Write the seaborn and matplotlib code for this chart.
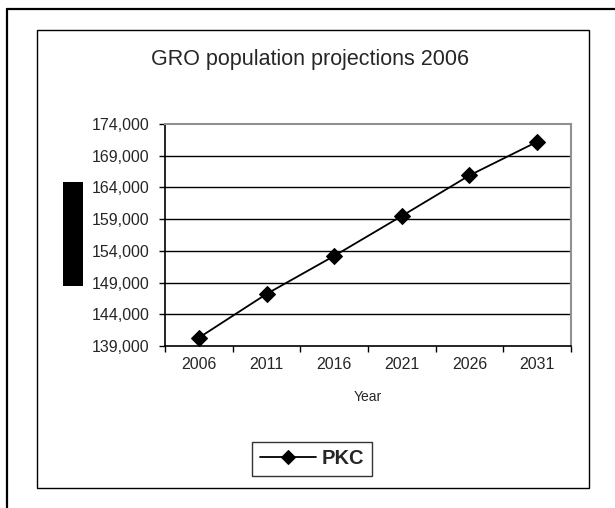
import matplotlib
matplotlib.use('Agg')
import matplotlib.pyplot as plt
from matplotlib.patches import Rectangle
from matplotlib.lines import Line2D
import seaborn as sns
import pandas as pd

# data
years = ['2006', '2011', '2016', '2021', '2026', '2031']
pkc = [140300, 147200, 153200, 159500, 165900, 171200]
y_ticks = list(range(139000, 174001, 5000))

sns.set_style('white')
plt.rcParams['font.family'] = ['Liberation Sans', 'DejaVu Sans']

W, H = 615, 508
fig = plt.figure(figsize=(W / 100, H / 100), dpi=100)
fig.patch.set_facecolor('white')
fig.patch.set_edgecolor('none')
fig.patch.set_linewidth(0)


def fx(px):
    return px / W


def fy(py):
    return 1 - py / H


# outer frame: only the top and left edges show
fig.lines.append(Line2D([fx(7), fx(7)], [fy(9), 0], transform=fig.transFigure,
                        color='black', linewidth=1.6))
fig.lines.append(Line2D([fx(7), 1], [fy(9), fy(9)], transform=fig.transFigure,
                        color='black', linewidth=1.6))
# chart frame
fig.patches.append(Rectangle((fx(37), fy(488)), fx(589) - fx(37), fy(30) - fy(488),
                             transform=fig.transFigure, fill=False, edgecolor='black', linewidth=1.0))
# black box where the axis title sits
fig.patches.append(Rectangle((fx(63), fy(286)), fx(83) - fx(63), fy(182) - fy(286),
                             transform=fig.transFigure, facecolor='black', edgecolor='none'))

ax = fig.add_axes([fx(165), fy(346), fx(571) - fx(165), fy(124) - fy(346)])

df = pd.DataFrame({'pos': range(len(years)), 'PKC': pkc})
sns.lineplot(data=df, x='pos', y='PKC', ax=ax, color='black', linewidth=1.3,
             marker='D', markersize=8.5, markeredgecolor='black', label='PKC', legend=False)

ax.set_xlim(-0.5, len(years) - 0.5)
ax.set_ylim(y_ticks[0], y_ticks[-1])
ax.set_yticks(y_ticks)
ax.set_yticklabels([f'{v:,}' for v in y_ticks])
ax.set_xticks(range(len(years)))
ax.set_xticklabels(years)
ax.set_xticks([i - 0.5 for i in range(len(years) + 1)], minor=True)
ax.tick_params(axis='x', which='major', length=0, pad=8, labelsize=11.5)
ax.tick_params(axis='x', which='minor', length=4, width=1, color='black', direction='out', bottom=True)
ax.tick_params(axis='y', length=4, width=1, color='black', direction='out', left=True, pad=7, labelsize=11.5)
ax.set_xlabel('')
ax.set_ylabel('')

for v in y_ticks[1:-1]:
    ax.axhline(v, color='black', linewidth=1.0, zorder=0)

ax.spines['left'].set_color('black')
ax.spines['bottom'].set_color('black')
ax.spines['left'].set_linewidth(1.2)
ax.spines['bottom'].set_linewidth(1.2)
ax.spines['top'].set_color('#909090')
ax.spines['right'].set_color('#909090')
ax.spines['top'].set_linewidth(1.5)
ax.spines['right'].set_linewidth(1.5)

fig.text(fx(310), fy(60), 'GRO population projections 2006', ha='center', va='center', fontsize=15.5)
fig.text(fx(368), fy(397), 'Year', ha='center', va='center', fontsize=10)

handles, labels = ax.get_legend_handles_labels()
leg = fig.legend(handles, labels, loc='center', bbox_to_anchor=(fx(312), fy(459)),
                 prop={'weight': 'bold', 'size': 14.5}, frameon=True, fancybox=False,
                 edgecolor='black', handlelength=2.8, handletextpad=0.3, markerscale=0.85,
                 borderpad=0.35, borderaxespad=0)
leg.get_frame().set_linewidth(1.0)

fig.savefig('out.png', dpi=100)
